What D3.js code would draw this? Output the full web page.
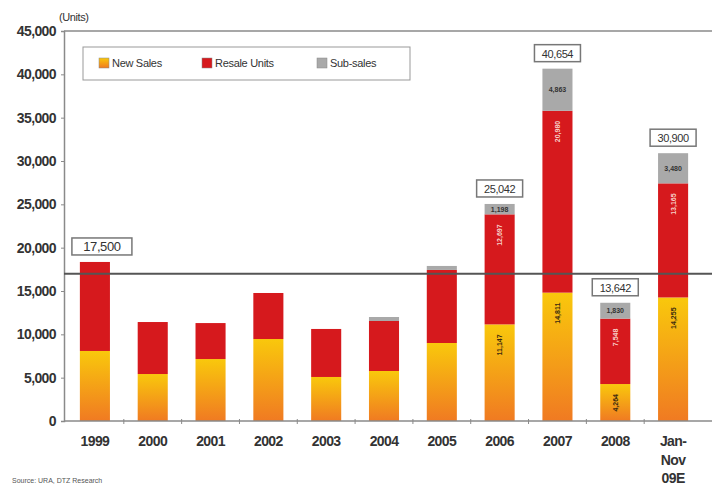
<!DOCTYPE html>
<html><head><meta charset="utf-8">
<script src="https://cdn.jsdelivr.net/npm/d3@7"></script>
<style>body{margin:0;background:#fff}svg{display:block;font-family:"Liberation Sans",Arial,sans-serif}</style>
</head><body><svg id="c" width="717" height="488"></svg>
<script>
const categories = ["1999","2000","2001","2002","2003","2004","2005","2006","2007","2008","Jan-Nov 09E"];
const newSales   = [8080, 5420, 7150, 9460, 5080, 5770, 9000, 11147, 14811, 4264, 14255];
const resale     = [10270, 6000, 4150, 5310, 5540, 5770, 8430, 12697, 20980, 7548, 13165];
const subSales   = [0, 0, 0, 0, 0, 460, 460, 1198, 4863, 1830, 3480];
const showLabels = [false,false,false,false,false,false,false,true,true,true,true];
const totalLabels = [{i:0, text:"17,500"},{i:7,text:"25,042"},{i:8,text:"40,654"},{i:9,text:"13,642"},{i:10,text:"30,900"}];
const refLine = 17000;
const yTicks = [0,5000,10000,15000,20000,25000,30000,35000,40000,45000];
const seriesNames = ["New Sales","Resale Units","Sub-sales"];

const svg = d3.select("#c");
const defs = svg.append("defs");
const g1 = defs.append("linearGradient").attr("id","gNew").attr("x1",0).attr("y1",0).attr("x2",0).attr("y2",1);
g1.append("stop").attr("offset","0%").attr("stop-color","#f9c80c");
g1.append("stop").attr("offset","100%").attr("stop-color","#f07a22");

const plotL = 64, plotR = 712, plotT = 31, plotB = 421;
const y = d3.scaleLinear().domain([0,45000]).range([plotB, plotT]);
const x = d3.scaleBand().domain(categories).range([66, 702]).paddingInner(0.48).paddingOuter(0.24);
const bw = x.bandwidth();
const cx = c => x(c) + bw/2;
const red = "#d6191d", gray = "#a9a9a9";

// frame
svg.append("line").attr("x1",plotL).attr("x2",plotR).attr("y1",plotT).attr("y2",plotT).attr("stroke","#8a8a8a").attr("stroke-width",1.5);
// y axis
const yAxis = d3.axisLeft(y).tickValues(yTicks).tickSize(3).tickFormat(d => d3.format(",")(d));
const ya = svg.append("g").attr("transform",`translate(${plotL},0)`).call(yAxis);
ya.select(".domain").attr("stroke","#8a8a8a").attr("stroke-width",1.5);
ya.selectAll(".tick line").attr("stroke","#8a8a8a");
ya.selectAll("text").attr("font-size",14).attr("fill","#333").attr("font-weight","bold").attr("letter-spacing","-0.6").attr("x",-8);

svg.append("text").attr("x",59).attr("y",21).attr("font-size",11).attr("fill","#333").attr("letter-spacing","-0.4").text("(Units)");

// bars
const stackData = categories.map((c,i)=>({c, n:newSales[i], r:resale[i], s:subSales[i]}));
const bars = svg.append("g");
stackData.forEach((d,i)=>{
  const x0 = x(d.c);
  bars.append("rect").attr("x",x0).attr("width",bw).attr("y",y(d.n)).attr("height",y(0)-y(d.n)).attr("fill","url(#gNew)");
  bars.append("rect").attr("x",x0).attr("width",bw).attr("y",y(d.n+d.r)).attr("height",y(d.n)-y(d.n+d.r)).attr("fill",red);
  if(d.s>0) bars.append("rect").attr("x",x0).attr("width",bw).attr("y",y(d.n+d.r+d.s)).attr("height",y(d.n+d.r)-y(d.n+d.r+d.s)).attr("fill",gray);
  if(showLabels[i]){
    const f = d3.format(",");
    bars.append("text").attr("transform",`translate(${cx(d.c)+2.5},${y(d.n)+10}) rotate(-90)`).attr("text-anchor","end")
      .attr("font-size",7).attr("font-weight","bold").attr("fill","#3a2a10").text(f(d.n));
    bars.append("text").attr("transform",`translate(${cx(d.c)+2.5},${y(d.n+d.r)+10}) rotate(-90)`).attr("text-anchor","end")
      .attr("font-size",7).attr("font-weight","bold").attr("fill","#f6d0c8").text(f(d.r));
    const ym = (y(d.n+d.r)+y(d.n+d.r+d.s))/2;
    bars.append("text").attr("x",cx(d.c)).attr("y",ym+2.5).attr("text-anchor","middle")
      .attr("font-size",7).attr("font-weight","bold").attr("fill","#333").text(f(d.s));
  }
});

// reference line
svg.append("line").attr("x1",plotL).attr("x2",plotR).attr("y1",y(refLine)).attr("y2",y(refLine)).attr("stroke","#555").attr("stroke-width",2);

// x axis
svg.append("line").attr("x1",plotL).attr("x2",plotR).attr("y1",plotB).attr("y2",plotB).attr("stroke","#8a8a8a").attr("stroke-width",1.5);
categories.slice(0,-1).forEach((c,i)=>{
  const xm = (cx(c)+cx(categories[i+1]))/2;
  svg.append("line").attr("x1",xm).attr("x2",xm).attr("y1",plotB-2).attr("y2",plotB+3).attr("stroke","#8a8a8a");
});
categories.forEach(c=>{
  const parts = c === "Jan-Nov 09E" ? ["Jan-","Nov","09E"] : [c];
  const t = svg.append("text").attr("x",cx(c)).attr("y",446).attr("text-anchor","middle").attr("font-size",14)
    .attr("font-weight","bold").attr("fill","#333").attr("letter-spacing","-0.6");
  parts.forEach((p,k)=>t.append("tspan").attr("x",cx(c)).attr("dy",k?18.5:0).text(p));
});

// total labels
totalLabels.forEach(tl=>{
  const c = categories[tl.i];
  const top = y(newSales[tl.i]+resale[tl.i]+subSales[tl.i]);
  const by = top-7;
  const w = tl.i===0 ? 60 : 46;
  const bx = tl.i===0 ? cx(c)+7 : cx(c);
  svg.append("rect").attr("x",bx-w/2).attr("y",by-17).attr("width",w).attr("height",17).attr("fill","#fff").attr("stroke","#777").attr("stroke-width",1.5);
  svg.append("text").attr("x",bx).attr("y",by-4).attr("text-anchor","middle").attr("font-size",tl.i===0?13:11).attr("fill","#333").attr("letter-spacing","-0.4").text(tl.text);
});

// legend
const lg = svg.append("g");
lg.append("rect").attr("x",83).attr("y",47).attr("width",327).attr("height",33).attr("fill","#fff").attr("stroke","#999").attr("stroke-width",1);
const lx = [99, 202, 317];
const lfill = ["url(#gNew)", red, gray];
seriesNames.forEach((n,i)=>{
  lg.append("rect").attr("x",lx[i]).attr("y",58).attr("width",10).attr("height",10).attr("fill",lfill[i]).attr("stroke","#888").attr("stroke-width",0.5);
  lg.append("text").attr("x",lx[i]+13).attr("y",67).attr("font-size",11).attr("fill","#333").attr("letter-spacing","-0.3").text(n);
});

svg.append("text").attr("x",12).attr("y",483).attr("font-size",7).attr("fill","#555").text("Source: URA, DTZ Research");
</script></body></html>
